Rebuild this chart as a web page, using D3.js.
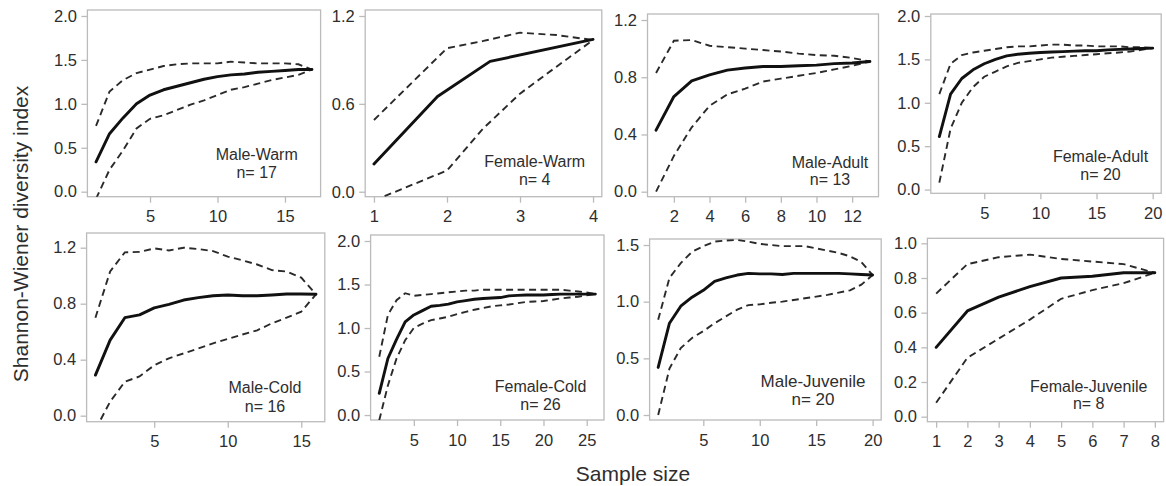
<!DOCTYPE html>
<html>
<head>
<meta charset="utf-8">
<script src="https://cdn.jsdelivr.net/npm/d3@7"></script>
<style>
  html, body { margin: 0; padding: 0; background: #fff; }
  svg { display: block; }
  text { font-family: "Liberation Sans", Arial, sans-serif; fill: #2e2e2e; }
</style>
</head>
<body>
<svg id="chart" width="1166" height="486"></svg>
<script>
// ---------------- DATA ----------------
const panelNames = ["Male-Warm", "Female-Warm", "Male-Adult", "Female-Adult",
                    "Male-Cold", "Female-Cold", "Male-Juvenile", "Female-Juvenile"];
const sampleN = [17, 4, 13, 20, 16, 26, 20, 8];

const xTickValues = [
  [5, 10, 15],
  [1, 2, 3, 4],
  [2, 4, 6, 8, 10, 12],
  [5, 10, 15, 20],
  [5, 10, 15],
  [5, 10, 15, 20, 25],
  [5, 10, 15, 20],
  [1, 2, 3, 4, 5, 6, 7, 8]
];
const yTickValues = [
  [0, 0.5, 1.0, 1.5, 2.0],
  [0, 0.6, 1.2],
  [0, 0.4, 0.8, 1.2],
  [0, 0.5, 1.0, 1.5, 2.0],
  [0, 0.4, 0.8, 1.2],
  [0, 0.5, 1.0, 1.5, 2.0],
  [0, 0.5, 1.0, 1.5],
  [0, 0.2, 0.4, 0.6, 0.8, 1.0]
];

// Male-Warm (x = 1..17)
const maleWarmMean  = [0.34,0.66,0.84,1.00,1.10,1.16,1.20,1.24,1.28,1.31,1.33,1.34,1.36,1.37,1.38,1.39,1.39];
const maleWarmUpper = [0.75,1.14,1.27,1.35,1.39,1.43,1.45,1.46,1.46,1.46,1.48,1.47,1.46,1.46,1.46,1.45,1.39];
const maleWarmLower = [-0.08,0.25,0.47,0.72,0.83,0.87,0.93,0.99,1.04,1.10,1.16,1.19,1.23,1.27,1.30,1.33,1.39];

// Female-Warm
const femaleWarmMeanX = [1, 1.87, 2.59, 4];
const femaleWarmMean  = [0.19, 0.65, 0.89, 1.04];
const femaleWarmCIX   = [1, 2, 2.5, 3, 3.5, 4];
const femaleWarmUpper = [0.49, 0.98, 1.03, 1.086, 1.07, 1.036];
const femaleWarmLower = [-0.06, 0.145, 0.434, 0.67, 0.854, 1.036];

// Male-Adult (x = 1..13)
const maleAdultMean  = [0.43,0.665,0.775,0.816,0.85,0.865,0.875,0.875,0.88,0.885,0.895,0.90,0.91];
const maleAdultUpper = [0.83,1.055,1.06,1.02,1.01,1.00,0.99,0.98,0.965,0.955,0.95,0.935,0.91];
const maleAdultLower = [0.0,0.25,0.45,0.60,0.68,0.72,0.77,0.79,0.81,0.83,0.855,0.88,0.91];

// Female-Adult (x = 1..20)
const femaleAdultMean  = [0.61,1.10,1.28,1.38,1.45,1.50,1.54,1.56,1.57,1.58,1.585,1.59,1.595,1.60,1.60,1.61,1.615,1.62,1.625,1.63];
const femaleAdultUpper = [1.10,1.45,1.55,1.58,1.60,1.62,1.64,1.65,1.65,1.66,1.67,1.67,1.66,1.66,1.65,1.65,1.65,1.64,1.64,1.63];
const femaleAdultLower = [0.08,0.70,1.00,1.18,1.30,1.36,1.42,1.46,1.48,1.50,1.52,1.53,1.54,1.55,1.56,1.57,1.58,1.59,1.61,1.63];

// Male-Cold (x = 1..16)
const maleColdMean  = [0.29,0.54,0.70,0.72,0.77,0.795,0.826,0.843,0.857,0.862,0.857,0.857,0.862,0.869,0.869,0.867];
const maleColdUpper = [0.70,1.03,1.167,1.17,1.195,1.18,1.20,1.19,1.176,1.136,1.11,1.08,1.04,1.03,0.986,0.867];
const maleColdLower = [-0.10,0.10,0.243,0.28,0.36,0.41,0.445,0.48,0.517,0.548,0.58,0.61,0.66,0.70,0.743,0.867];

// Female-Cold (x = 1..26)
const femaleColdMean  = [0.25,0.65,0.87,1.07,1.15,1.20,1.25,1.26,1.275,1.30,1.315,1.33,1.34,1.345,1.35,1.37,1.375,1.38,1.38,1.38,1.385,1.39,1.39,1.39,1.39,1.39];
const femaleColdUpper = [0.67,1.15,1.32,1.40,1.37,1.38,1.39,1.40,1.41,1.42,1.43,1.43,1.44,1.44,1.44,1.44,1.44,1.44,1.44,1.44,1.44,1.44,1.43,1.42,1.41,1.39];
const femaleColdLower = [-0.06,0.34,0.65,0.86,1.00,1.05,1.09,1.11,1.13,1.16,1.185,1.21,1.23,1.25,1.26,1.27,1.285,1.30,1.305,1.31,1.325,1.34,1.35,1.36,1.375,1.39];

// Male-Juvenile (x = 1..20)
const maleJuvMean  = [0.42,0.81,0.96,1.04,1.10,1.18,1.21,1.235,1.25,1.245,1.245,1.24,1.25,1.25,1.25,1.25,1.25,1.245,1.24,1.235];
const maleJuvUpper = [0.84,1.21,1.34,1.44,1.49,1.53,1.54,1.545,1.53,1.51,1.50,1.49,1.49,1.49,1.47,1.45,1.43,1.40,1.35,1.235];
const maleJuvLower = [0.0,0.41,0.59,0.68,0.74,0.81,0.87,0.93,0.97,0.976,0.99,1.0,1.015,1.03,1.045,1.06,1.08,1.10,1.15,1.235];

// Female-Juvenile (x = 1..8)
const femaleJuvMean  = [0.40,0.61,0.69,0.75,0.80,0.81,0.83,0.83];
const femaleJuvUpper = [0.71,0.88,0.92,0.935,0.91,0.895,0.88,0.83];
const femaleJuvLower = [0.08,0.34,0.45,0.56,0.68,0.73,0.77,0.83];

const seq = n => d3.range(1, n + 1);
const series = [
  { meanX: seq(17), mean: maleWarmMean, ciX: seq(17), upper: maleWarmUpper, lower: maleWarmLower },
  { meanX: femaleWarmMeanX, mean: femaleWarmMean, ciX: femaleWarmCIX, upper: femaleWarmUpper, lower: femaleWarmLower },
  { meanX: seq(13), mean: maleAdultMean, ciX: seq(13), upper: maleAdultUpper, lower: maleAdultLower },
  { meanX: seq(20), mean: femaleAdultMean, ciX: seq(20), upper: femaleAdultUpper, lower: femaleAdultLower },
  { meanX: seq(16), mean: maleColdMean, ciX: seq(16), upper: maleColdUpper, lower: maleColdLower },
  { meanX: seq(26), mean: femaleColdMean, ciX: seq(26), upper: femaleColdUpper, lower: femaleColdLower },
  { meanX: seq(20), mean: maleJuvMean, ciX: seq(20), upper: maleJuvUpper, lower: maleJuvLower },
  { meanX: seq(8), mean: femaleJuvMean, ciX: seq(8), upper: femaleJuvUpper, lower: femaleJuvLower }
];

// ---------------- LAYOUT ----------------
const boxes = [
  { l: 87.4, r: 320.6, t: 10,    b: 196.7, yd: [-0.057, 2.068], lx: 256.7, ly1: 160,   ly2: 178,   fs: 16 },
  { l: 365.2, r: 601.8, t: 10,   b: 196.7, yd: [-0.034, 1.241], lx: 534.7, ly1: 167,   ly2: 185,   fs: 16 },
  { l: 647.5, r: 878.5, t: 14,   b: 196.7, yd: [-0.035, 1.242], lx: 830,   ly1: 168,   ly2: 185,   fs: 16 },
  { l: 930.8, r: 1161.2, t: 14,  b: 193.3, yd: [-0.043, 2.023], lx: 1100.5, ly1: 161.7, ly2: 180,  fs: 16 },
  { l: 86.6, r: 324.8, t: 233,   b: 421.7, yd: [-0.043, 1.305], lx: 265,   ly1: 393,   ly2: 411.7, fs: 16 },
  { l: 370.6, r: 604, t: 235,    b: 420,   yd: [-0.057, 2.069], lx: 540.5, ly1: 391.7, ly2: 410,   fs: 16 },
  { l: 649.6, r: 881.2, t: 239,  b: 420,   yd: [-0.044, 1.553], lx: 813,   ly1: 386.7, ly2: 405,   fs: 17 },
  { l: 927.4, r: 1163.6, t: 238.3, b: 421.7, yd: [-0.029, 1.029], lx: 1088.7, ly1: 391.7, ly2: 409, fs: 16 }
];

const svg = d3.select("#chart");
const gray = "#bbbbbb";
const fmt = d3.format(".1f");

boxes.forEach((bx, i) => {
  const n = sampleN[i];
  const pad = 0.04 * (n - 1);
  const x = d3.scaleLinear().domain([1 - pad, n + pad]).range([bx.l, bx.r]);
  const y = d3.scaleLinear().domain(bx.yd).range([bx.b, bx.t]);
  const g = svg.append("g");

  const cid = "clip" + i;
  svg.append("defs").append("clipPath").attr("id", cid)
    .append("rect").attr("x", bx.l).attr("y", bx.t)
    .attr("width", bx.r - bx.l).attr("height", bx.b - bx.t);

  g.append("rect").attr("x", bx.l).attr("y", bx.t)
    .attr("width", bx.r - bx.l).attr("height", bx.b - bx.t)
    .attr("fill", "none").attr("stroke", gray).attr("stroke-width", 1.3);

  const xa = g.append("g").attr("transform", `translate(0,${bx.b})`)
    .call(d3.axisBottom(x).tickValues(xTickValues[i]).tickFormat(d3.format("d"))
      .tickSize(6).tickPadding(8));
  const ya = g.append("g").attr("transform", `translate(${bx.l},0)`)
    .call(d3.axisLeft(y).tickValues(yTickValues[i]).tickFormat(fmt)
      .tickSize(6).tickPadding(4.5));
  [xa, ya].forEach(a => {
    a.select(".domain").remove();
    a.selectAll(".tick line").attr("stroke", gray).attr("stroke-width", 1.3);
    a.selectAll(".tick text").attr("font-size", 16.5)
      .style("font-family", '"Liberation Sans", Arial, sans-serif').attr("fill", "#2e2e2e");
  });

  const s = series[i];
  const line = d3.line().x(d => x(d[0])).y(d => y(d[1]));
  const lg = g.append("g").attr("clip-path", `url(#${cid})`);
  const dashStyle = p => p.attr("fill", "none").attr("stroke", "#2a2a2a")
    .attr("stroke-width", 1.9).attr("stroke-dasharray", "7,4.5");
  lg.append("path").datum(d3.zip(s.ciX, s.upper)).attr("d", line).call(dashStyle);
  lg.append("path").datum(d3.zip(s.ciX, s.lower)).attr("d", line).call(dashStyle);
  lg.append("path").datum(d3.zip(s.meanX, s.mean)).attr("d", line)
    .attr("fill", "none").attr("stroke", "#111").attr("stroke-width", 2.9)
    .attr("stroke-linejoin", "round").attr("stroke-linecap", "round");

  g.append("text").attr("x", bx.lx).attr("y", bx.ly1).attr("text-anchor", "middle")
    .attr("font-size", bx.fs).text(panelNames[i]);
  g.append("text").attr("x", bx.lx).attr("y", bx.ly2).attr("text-anchor", "middle")
    .attr("font-size", bx.fs).text("n= " + n);
});

svg.append("text").attr("transform", "translate(28,234) rotate(-90)")
  .attr("text-anchor", "middle").attr("font-size", 21)
  .text("Shannon-Wiener diversity index");
svg.append("text").attr("x", 633).attr("y", 481)
  .attr("text-anchor", "middle").attr("font-size", 21)
  .text("Sample size");
</script>
</body>
</html>
